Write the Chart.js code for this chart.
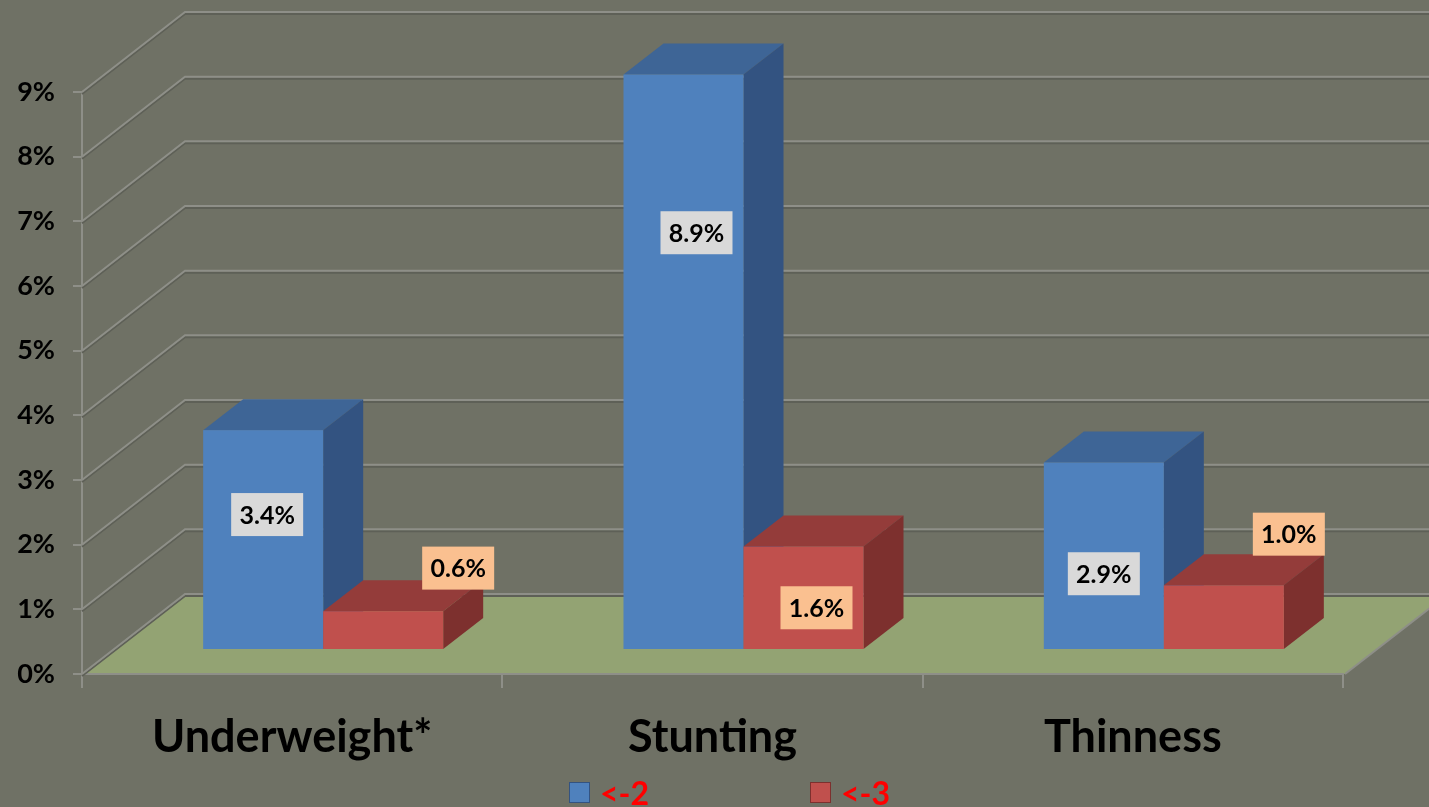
<!DOCTYPE html>
<html>
<head>
<meta charset="utf-8">
<script src="https://cdn.jsdelivr.net/npm/chart.js@4.4.0/dist/chart.umd.min.js"></script>
<style>
html, body { margin: 0; padding: 0; background: #6f7165; }
</style>
</head>
<body>
<canvas id="myChart" width="1429" height="807"></canvas>
<script>
const categories = ['Underweight*', 'Stunting', 'Thinness']
const seriesNames = ['<-2', '<-3']
const below2 = [3.4, 8.9, 2.9]
const below3 = [0.6, 1.6, 1.0]
const yTicks = [0, 1, 2, 3, 4, 5, 6, 7, 8, 9]

// colours for the three visible faces of each series
const faces = [
    { front: '#4f81bd', top: '#3e6596', side: '#335381', label: '#d9d9d9' },
    { front: '#c0504d', top: '#943c3a', side: '#7d302e', label: '#fac090' }
]
// where each value box sits relative to its bar's front face centre
const labelShift = [
    [[4, -25], [13, -129], [0, 18]],
    [[75, -62], [13, 10], [65, -83]]
]

const wallDepth = { x: 103, y: -80 }   // floor / side wall depth
const barShift = { x: 31, y: -24 }     // bars stand this far back from the front plane
const barDepth = { x: 40, y: -31 }
const gridColor = '#8e8f88'
const font = 'Lato'

function poly(c, pts, fill) {
    c.beginPath()
    c.moveTo(pts[0][0], pts[0][1])
    for (let i = 1; i < pts.length; i++) c.lineTo(pts[i][0], pts[i][1])
    c.closePath()
    c.fillStyle = fill
    c.fill()
}

const bars3d = {
    id: 'bars3d',
    beforeDraw(chart) {
        const c = chart.ctx
        const a = chart.chartArea
        c.save()
        c.fillStyle = '#6f7165'
        c.fillRect(0, 0, chart.width, chart.height)
        // green floor
        const y0 = chart.scales.y.getPixelForValue(0)
        poly(c, [
            [a.left, y0], [a.right + 2, y0],
            [a.right + 2 + wallDepth.x, y0 + wallDepth.y],
            [a.left + wallDepth.x, y0 + wallDepth.y]
        ], '#93a373')
        c.strokeStyle = gridColor
        c.lineWidth = 2
        c.beginPath()
        c.moveTo(a.right + 2, y0)
        c.lineTo(a.right + 2 + wallDepth.x, y0 + wallDepth.y)
        c.stroke()
        c.restore()
    },
    beforeDatasetsDraw(chart) {
        // side wall + back wall grid lines
        const c = chart.ctx
        const a = chart.chartArea
        const ys = chart.scales.y
        c.save()
        c.lineWidth = 2
        ys.ticks.forEach(t => {
            const y = ys.getPixelForValue(t.value)
            const pts = [[a.left, y], [a.left + wallDepth.x, y + wallDepth.y], [chart.width, y + wallDepth.y]]
            c.strokeStyle = '#5e6057'
            c.beginPath()
            c.moveTo(pts[0][0], pts[0][1] + 2)
            c.lineTo(pts[1][0], pts[1][1] + 2)
            c.lineTo(pts[2][0], pts[2][1] + 2)
            c.stroke()
            c.strokeStyle = gridColor
            c.beginPath()
            c.moveTo(pts[0][0], pts[0][1])
            c.lineTo(pts[1][0], pts[1][1])
            c.lineTo(pts[2][0], pts[2][1])
            c.stroke()
        })
        c.restore()
    },
    beforeDatasetDraw() {
        return false
    },
    afterDatasetsDraw(chart) {
        const c = chart.ctx
        const metas = chart.data.datasets.map((d, i) => chart.getDatasetMeta(i))
        const fronts = []
        c.save()
        for (let j = 0; j < chart.data.labels.length; j++) {
            metas.forEach((meta, i) => {
                const bar = meta.data[j]
                const f = faces[i]
                const L = bar.x - bar.width / 2 + barShift.x
                const R = bar.x + bar.width / 2 + barShift.x
                const T = bar.y + barShift.y
                const B = bar.base + barShift.y
                poly(c, [[L, T], [L + barDepth.x, T + barDepth.y], [R + barDepth.x, T + barDepth.y], [R, T]], f.top)
                poly(c, [[R, T], [R + barDepth.x, T + barDepth.y], [R + barDepth.x, B + barDepth.y], [R, B]], f.side)
                c.fillStyle = f.front
                c.fillRect(L, T, R - L, B - T)
                fronts.push({ i, j, cx: (L + R) / 2, cy: (T + B) / 2 })
            })
        }
        // value boxes
        c.font = 'bold 25px ' + font
        c.textAlign = 'center'
        c.textBaseline = 'middle'
        fronts.forEach(p => {
            const v = chart.data.datasets[p.i].data[p.j]
            const x = p.cx + labelShift[p.i][p.j][0]
            const y = p.cy + labelShift[p.i][p.j][1]
            c.fillStyle = faces[p.i].label
            c.fillRect(x - 36, y - 21.5, 72, 43)
            c.fillStyle = '#000'
            c.fillText(v.toFixed(1) + '%', x, y + 1)
        })
        c.restore()
    },
    afterDraw(chart) {
        // legend along the bottom edge
        const c = chart.ctx
        c.save()
        c.font = 'bold 32px ' + font
        c.textBaseline = 'alphabetic'
        c.textAlign = 'left'
        let x = 569
        chart.data.datasets.forEach((d, i) => {
            c.fillStyle = faces[i].front
            c.fillRect(x, 782, 21, 21)
            c.strokeStyle = faces[i].side
            c.lineWidth = 1
            c.strokeRect(x + 0.5, 782.5, 20, 20)
            c.fillStyle = '#ff0000'
            c.fillText(d.label, x + 31, 805)
            x += 241
        })
        c.restore()
    }
}

new Chart(document.getElementById('myChart'), {
    type: 'bar',
    data: {
        labels: categories,
        datasets: [
            { label: seriesNames[0], data: below2, backgroundColor: faces[0].front },
            { label: seriesNames[1], data: below3, backgroundColor: faces[1].front }
        ]
    },
    options: {
        responsive: false,
        animation: false,
        categoryPercentage: 0.571,
        barPercentage: 1,
        layout: { padding: { top: 92, right: 86, left: 0, bottom: 0 } },
        scales: {
            x: {
                afterFit: s => { s.height = 133 },
                grid: { offset: true, drawOnChartArea: false, color: gridColor, lineWidth: 2, tickLength: 14 },
                border: { color: gridColor, width: 2 },
                ticks: {
                    color: '#000',
                    padding: 22,
                    font: { family: font, size: 45, weight: 'bold' }
                }
            },
            y: {
                min: 0,
                max: yTicks[yTicks.length - 1],
                afterFit: s => { s.width = 82 },
                afterBuildTicks: s => { s.ticks = yTicks.map(v => ({ value: v })) },
                grid: { drawOnChartArea: false, color: gridColor, lineWidth: 2, tickLength: 9 },
                border: { color: gridColor, width: 2 },
                ticks: {
                    color: '#000',
                    padding: 18,
                    font: { family: font, size: 27, weight: 'bold' },
                    callback: v => v + '%'
                }
            }
        },
        plugins: {
            legend: { display: false },
            tooltip: { enabled: false }
        }
    },
    plugins: [bars3d]
})
</script>
</body>
</html>
